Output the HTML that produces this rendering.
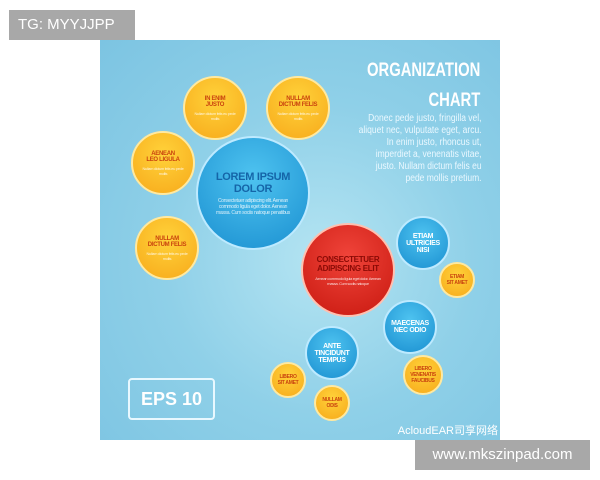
<!DOCTYPE html>
<html><head><meta charset="utf-8"><style>
body{margin:0;width:600px;height:480px;background:#fff;position:relative;overflow:hidden;font-family:"Liberation Sans",sans-serif}
.tag{position:absolute;left:9px;top:10px;width:126px;height:30px;background:#a8a8a8;color:#fff;font-size:15px;line-height:30px;padding-left:9px;box-sizing:border-box}
.site{position:absolute;left:415px;top:440px;width:175px;height:30px;background:#a8a8a8;color:#fff;font-size:15px;line-height:30px;text-align:center}
.img{position:absolute;left:100px;top:40px;width:400px;height:400px;overflow:hidden;
background:radial-gradient(circle at 55% 55%,#b4e4f2 0%,#8fd0e8 50%,#7cc4e2 100%)}
.c{position:absolute;border-radius:50%;text-align:center;box-sizing:border-box;display:flex;flex-direction:column;justify-content:center;align-items:center;font-weight:bold;letter-spacing:-0.3px}
.o{background:radial-gradient(circle at 50% 35%,#ffd23a,#f7a91a);border:2px solid #ffe9a0;color:#c9420e;font-size:6px}
.b{background:radial-gradient(circle at 50% 35%,#4ec3f0,#1a8fd0);border:2px solid #bdeaff;color:#fff;font-size:7px}
.r{background:radial-gradient(circle at 50% 35%,#f0443a,#c8180f);border:2px solid #ffc0b0;color:#8a0a05;font-size:8px}
.s{font-size:4px;font-weight:normal;color:#fff;opacity:.8;margin-top:3px;line-height:5px;width:75%}
</style></head><body>
<div class="tag">TG: MYYJJPP</div>
<div class="img">
<div style="position:absolute;right:20px;top:16px;color:#fff;font-weight:bold;font-size:19px;text-align:right;line-height:30px;transform:scaleX(0.78);transform-origin:right top">ORGANIZATION<br>CHART</div>
<div style="position:absolute;right:18px;top:73px;color:#eaf8ff;font-size:10px;text-align:right;line-height:12px;transform:scaleX(0.85);transform-origin:right top;white-space:nowrap">Donec pede justo, fringilla vel,<br>aliquet nec, vulputate eget, arcu.<br>In enim justo, rhoncus ut,<br>imperdiet a, venenatis vitae,<br>justo. Nullam dictum felis eu<br>pede mollis pretium.</div>
<div class="c o" style="left:83px;top:36px;width:64px;height:64px">IN ENIM<br>JUSTO<div class="s">Nullam dictum felis eu pede mollis</div></div>
<div class="c o" style="left:166px;top:36px;width:64px;height:64px">NULLAM<br>DICTUM FELIS<div class="s">Nullam dictum felis eu pede mollis</div></div>
<div class="c o" style="left:31px;top:91px;width:64px;height:64px">AENEAN<br>LEO LIGULA<div class="s">Nullam dictum felis eu pede mollis</div></div>
<div class="c o" style="left:35px;top:176px;width:64px;height:64px">NULLAM<br>DICTUM FELIS<div class="s">Nullam dictum felis eu pede mollis</div></div>
<div class="c b" style="left:96px;top:96px;width:114px;height:114px;font-size:11px;color:#1565a8">LOREM IPSUM<br>DOLOR<div class="s" style="font-size:5px;line-height:6px">Consectetuer adipiscing elit. Aenean commodo ligula eget dolor. Aenean massa. Cum sociis natoque penatibus</div></div>
<div class="c r" style="left:201px;top:183px;width:94px;height:94px">CONSECTETUER<br>ADIPISCING ELIT<div class="s">Aenean commodo ligula eget dolor. Aenean massa. Cum sociis natoque</div></div>
<div class="c b" style="left:296px;top:176px;width:54px;height:54px">ETIAM<br>ULTRICIES<br>NISI</div>
<div class="c o" style="left:339px;top:222px;width:36px;height:36px;font-size:5px">ETIAM<br>SIT AMET</div>
<div class="c b" style="left:283px;top:260px;width:54px;height:54px">MAECENAS<br>NEC ODIO</div>
<div class="c b" style="left:205px;top:286px;width:54px;height:54px">ANTE<br>TINCIDUNT<br>TEMPUS</div>
<div class="c o" style="left:303px;top:315px;width:40px;height:40px;font-size:5px">LIBERO<br>VENENATIS<br>FAUCIBUS</div>
<div class="c o" style="left:170px;top:322px;width:36px;height:36px;font-size:5px">LIBERO<br>SIT AMET</div>
<div class="c o" style="left:214px;top:345px;width:36px;height:36px;font-size:5px">NULLAM<br>ODIS</div>
<div style="position:absolute;left:28px;top:338px;width:87px;height:42px;border:2px solid #e8f8ff;border-radius:4px;box-sizing:border-box;color:#fff;font-weight:bold;font-size:18px;line-height:38px;text-align:center">EPS 10</div>
<div style="position:absolute;right:2px;bottom:2px;color:#fff;font-size:11px;font-family:'Liberation Sans','Noto Sans CJK SC',sans-serif">AcloudEAR司享网络</div>
</div>
<div class="site">www.mkszinpad.com</div>
</body></html>
